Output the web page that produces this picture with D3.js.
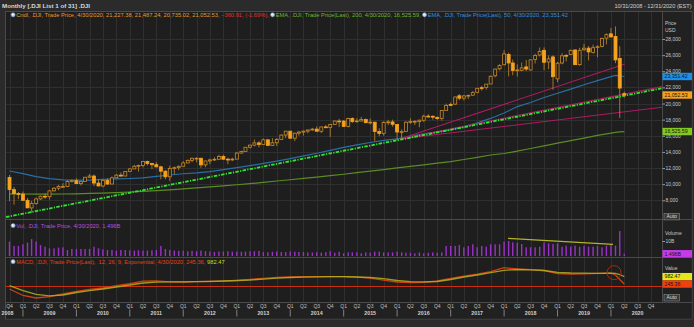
<!DOCTYPE html>
<html>
<head>
<meta charset="utf-8">
<script src="https://cdn.jsdelivr.net/npm/d3@7"></script>
<style>
  html, body { margin: 0; padding: 0; background: #2b2b2b; }
  svg { display: block; font-family: "Liberation Sans", Arial, sans-serif; }
  text { white-space: pre; }
</style>
</head>
<body>
<svg id="chart" width="694" height="327"></svg>
<script>
// ---- Monthly .DJI candles, Oct 2008 .. Apr 2020 ----
const firstMonth = [2008, 9]; // October 2008 (UTC year, month index)

const opens = [
  10831, 9326, 8829,
  8772, 7999, 7057, 7609, 8168, 8501, 8447, 9172, 9497, 9712, 9713, 10345,
  10430, 10068, 10326, 10857, 11009, 10136, 9774, 10468, 10016, 10789, 11120, 11007,
  11577, 11892, 12226, 12321, 12810, 12570, 12415, 12144, 11613, 10913, 11955, 12046,
  12221, 12632, 12952, 13213, 13214, 12391, 12880, 13009, 13092, 13438, 13099, 13027,
  13104, 13860, 14054, 14580, 14840, 15116, 14911, 15500, 14810, 15132, 15545, 16087,
  16572, 15698, 16321, 16458, 16580, 16716, 16828, 16561, 17099, 17041, 17391, 17828,
  17823, 17169, 18134, 17778, 17840, 18012, 17638, 17690, 16528, 16285, 17664, 17719,
  17405, 16453, 16546, 17661, 17783, 17754, 17925, 18434, 18419, 18282, 18162, 19149,
  19872, 19923, 20957, 20665, 20962, 21030, 21392, 21964, 21982, 22423, 23442, 24305,
  24809, 26083, 25025, 24076, 24117, 24542, 24161, 25461, 26011, 26598, 25151, 25779,
  23058, 25025, 25971, 26076, 26640, 24820, 26670, 26868, 26342, 26962, 27094, 28110,
  28639, 28320, 25591, 21227.38
];
const highs = [
  11143, 9654, 9026,
  9088, 8281, 7925, 8329, 8588, 8878, 9294, 9630, 9917, 10119, 10496, 10580,
  10730, 10405, 10905, 11258, 11206, 10595, 10583, 10719, 10948, 11247, 11452, 11625,
  11980, 12391, 12419, 12876, 12929, 12570, 12754, 12285, 11717, 12284, 12188, 12330,
  12842, 13056, 13289, 13338, 13280, 12901, 13159, 13331, 13653, 13661, 13290, 13285,
  13969, 14149, 14585, 14888, 15542, 15340, 15658, 15542, 15709, 15721, 16174, 16588,
  16588, 16398, 16589, 16632, 16736, 16979, 17152, 17131, 17350, 17395, 17895, 18103,
  17951, 18244, 18289, 18176, 18351, 18138, 18137, 17716, 16933, 17799, 17977, 17996,
  17405, 16795, 17790, 18168, 17934, 18017, 18622, 18668, 18534, 18399, 19152, 19988,
  20125, 20851, 21169, 21071, 21112, 21535, 21929, 22179, 22420, 23485, 24327, 24876,
  26617, 26307, 25450, 24858, 25087, 25402, 25461, 26168, 26952, 26952, 25980, 25980,
  25150, 26242, 26110, 26696, 26683, 26907, 27399, 27141, 27306, 27212, 28175, 28701,
  29374, 29568, 27102, 21487.24
];
const lows = [
  7882, 7449, 8149,
  7909, 7114, 6470, 7453, 8034, 8177, 8087, 9089, 9253, 9653, 9679, 10216,
  10043, 9836, 10265, 10778, 9775, 9758, 9614, 9936, 10016, 10711, 10929, 11007,
  11578, 11892, 11555, 12094, 12307, 11862, 12143, 10604, 10597, 10404, 11231, 11736,
  12218, 12632, 12711, 12710, 12035, 12102, 12492, 12878, 13035, 13020, 12471, 12883,
  13104, 13784, 14054, 14434, 14687, 14551, 14910, 14760, 14777, 14719, 15545, 15703,
  15698, 15340, 16016, 16015, 16312, 16656, 16557, 16334, 16944, 15855, 17365, 17068,
  17136, 17038, 17585, 17634, 17762, 17575, 17399, 15370, 15942, 16014, 17320, 17128,
  15451, 15503, 16545, 17484, 17331, 17063, 17713, 18247, 17992, 17959, 17884, 19149,
  19678, 19831, 20412, 20379, 20553, 20996, 21279, 21600, 21710, 22417, 23242, 24118,
  24742, 23360, 23509, 23344, 23997, 24005, 24077, 24965, 25830, 24123, 24268, 21713,
  22639, 24861, 25209, 26022, 24787, 24680, 26511, 25339, 26203, 25744, 26960, 27325,
  28170, 25000, 18214, 20735.02
];
const closes = [
  9325, 8829, 8776,
  8001, 7063, 7609, 8168, 8500, 8447, 9172, 9496, 9712, 9713, 10344, 10428,
  10067, 10325, 10857, 11009, 10137, 9774, 10466, 10015, 10788, 11118, 11006, 11578,
  11892, 12226, 12320, 12811, 12570, 12414, 12143, 11614, 10913, 11955, 12046, 12218,
  12633, 12952, 13212, 13214, 12393, 12880, 13009, 13091, 13437, 13096, 13026, 13104,
  13861, 14054, 14579, 14840, 15116, 14910, 15500, 14810, 15130, 15546, 16086, 16577,
  15699, 16322, 16458, 16581, 16717, 16827, 16563, 17098, 17043, 17391, 17828, 17823,
  17165, 18133, 17776, 17841, 18011, 17620, 17690, 16528, 16285, 17664, 17720, 17425,
  16466, 16517, 17685, 17774, 17787, 17930, 18432, 18401, 18308, 18142, 19124, 19763,
  19864, 20812, 20663, 20941, 21009, 21350, 21891, 21948, 22405, 23377, 24272, 24719,
  26149, 25029, 24103, 24163, 24416, 24271, 25415, 25965, 26458, 25116, 25538, 23327,
  24999, 25916, 25929, 26593, 24815, 26600, 26864, 26403, 26917, 27046, 28051, 28538,
  28256, 25409, 21917, 21052.53
];
// monthly volume, billions
const volumes = [
  9.6, 6.7, 6.7,
  7.8, 8.9, 11.3, 9.6, 7.3, 6.2, 5.1, 5.1, 5.6, 5.8, 4.0, 4.7,
  4.7, 4.7, 4.7, 4.7, 6.2, 5.1, 4.4, 4.0, 4.0, 3.6, 4.0, 4.0,
  3.8, 3.6, 3.8, 3.6, 3.6, 3.8, 4.0, 6.7, 4.7, 4.0, 3.6, 3.4,
  3.6, 3.2, 3.4, 3.2, 3.6, 3.2, 3.0, 2.7, 3.0, 3.0, 3.2, 2.9,
  3.0, 2.8, 3.0, 3.1, 3.2, 3.4, 2.6, 2.5, 2.8, 3.0, 2.6, 2.6,
  3.0, 2.8, 2.7, 2.7, 2.3, 2.3, 2.5, 2.2, 2.6, 3.2, 2.2, 2.8,
  1.8, 2.4, 2.4, 2.4, 1.8, 2.4, 2.2, 2.9, 2.9, 2.4, 2.4, 2.4,
  2.9, 2.4, 2.2, 2.2, 1.8, 2.4, 1.8, 2.2, 2.4, 2.2, 2.4, 6.7,
  6.7, 6.7, 7.3, 5.8, 6.7, 7.8, 5.8, 6.7, 6.2, 7.8, 7.8, 7.8,
  9.6, 10.0, 9.1, 8.9, 8.0, 5.8, 5.8, 5.8, 6.2, 9.1, 8.4, 8.0,
  8.4, 6.2, 6.9, 6.2, 6.9, 6.2, 6.7, 6.2, 6.2, 6.7, 5.8, 6.9,
  7.8, 6.9, 16.7, 1.4958
];
const lastChange = -360.91;
const lastChangePct = -1.69;

// ---- indicator samples (quarterly, then the last three months) ----
const indicatorMonths = [
  "2008-10",
  "2009-01", "2009-04", "2009-07", "2009-10", "2010-01", "2010-04", "2010-07", "2010-10",
  "2011-01", "2011-04", "2011-07", "2011-10", "2012-01", "2012-04", "2012-07", "2012-10",
  "2013-01", "2013-04", "2013-07", "2013-10", "2014-01", "2014-04", "2014-07", "2014-10",
  "2015-01", "2015-04", "2015-07", "2015-10", "2016-01", "2016-04", "2016-07", "2016-10",
  "2017-01", "2017-04", "2017-07", "2017-10", "2018-01", "2018-04", "2018-07", "2018-10",
  "2019-01", "2019-04", "2019-07", "2019-10", "2020-01", "2020-02", "2020-03", "2020-04"
];
const ema50 = [
  11630,
  11300, 10930, 10680, 10540, 10490, 10500, 10590, 10650,
  10700, 10780, 10960, 11140, 11290, 11390, 11560, 11810,
  12050, 12290, 12570, 12860, 13170, 13500, 13830, 14190,
  14560, 14880, 15170, 15420, 15620, 15930, 16240, 16480,
  16730, 17110, 17600, 18150, 18820, 19620, 20130, 20740,
  21280, 21780, 22330, 22830, 23330, 23480, 23440, 23351.42
];
const ema200 = [
  8790,
  8780, 8770, 8760, 8780, 8800, 8850, 8900, 8960,
  9030, 9110, 9200, 9300, 9410, 9530, 9660, 9790,
  9930, 10060, 10220, 10390, 10550, 10710, 10870, 11050,
  11230, 11420, 11620, 11810, 12010, 12200, 12400, 12600,
  12800, 13060, 13330, 13620, 13800, 14100, 14420, 14750,
  15080, 15400, 15720, 16060, 16330, 16420, 16475, 16525.59
];
const macdLine = [
  -250,
  -900, -1150, -1020, -750, -500, -300, -150, 80,
  280, 530, 570, 470, 450, 480, 500, 530,
  580, 720, 820, 900, 950, 980, 990, 980,
  980, 930, 840, 640, 450, 390, 420, 550,
  800, 1030, 1230, 1480, 1880, 1750, 1680, 1600,
  1300, 1230, 1260, 1320, 1330, 1150, 700, 245.36
];
const macdSignal = [
  80,
  -420, -780, -930, -850, -600, -420, -250, -50,
  150, 350, 440, 460, 470, 480, 510, 550,
  600, 650, 740, 830, 900, 940, 970, 980,
  980, 950, 900, 780, 600, 480, 470, 500,
  700, 950, 1150, 1380, 1620, 1700, 1660, 1600,
  1420, 1350, 1330, 1320, 1330, 1320, 1200, 982.47
];

// ---- drawn trendlines: [date, value] end points ----
const supportLine = [["2008-09-08", 5930], ["2020-12-15", 21890]];
const fanLines = [
  [["2016-01-20", 15600], ["2020-04-05", 24900]],
  [["2016-01-20", 15600], ["2020-12-15", 22090]],
  [["2016-01-20", 15600], ["2020-12-15", 19530]]
];
const volumeLine = [["2018-01-28", 11.8], ["2020-01-15", 7.8]];
const macdMarker = { date: "2020-01-22", value: 1380 };

const priceTicks = [8000, 10000, 12000, 14000, 16000, 18000, 20000, 22000, 24000, 26000, 28000];
const volumeTicks = [10];
const quarterNames = ["Q1", "Q2", "Q3", "Q4"];

// ---------------------------------------------------------------
const svg = d3.select("#chart");
const plotL = 6, plotR = 662, axisR = 692;
const mainTop = 11, mainBot = 219.5, volBot = 257.5, macdBot = 302, axisBot = 318.5;

const utc = (y, m, d = 1) => new Date(Date.UTC(y, m, d));
const parseDay = d3.utcParse("%Y-%m-%d");
const parseMonth = d3.utcParse("%Y-%m");

const months = d3.range(closes.length).map(i => utc(firstMonth[0], firstMonth[1] + i));
const candles = months.map((d, i) => ({ date: d, o: opens[i], h: highs[i], l: lows[i], c: closes[i], v: volumes[i] }));
const ind = indicatorMonths.map((m, i) => ({
  date: parseMonth(m), e50: ema50[i], e200: ema200[i], macd: macdLine[i], sig: macdSignal[i]
}));

const x = d3.scaleUtc().domain([utc(2008, 9), utc(2020, 11)]).range([9.5, 660]);
const yPrice = d3.scaleLinear().domain([8000, 28000]).range([200.3, 39]);
const yVol = d3.scaleLinear().domain([0, 10]).range([256, 241]);
const yMacd = d3.scaleLinear().domain([-1550, 2850]).range([302, 258]);

// backgrounds
svg.append("rect").attr("width", 694).attr("height", 327).attr("fill", "#2b2b2b");
svg.append("rect").attr("x", plotL - 0.5).attr("y", mainTop + 0.5)
  .attr("width", axisR - plotL + 0.5).attr("height", axisBot - mainTop)
  .attr("fill", "#1e1e1e").attr("stroke", "#4a4a4a").attr("stroke-width", 1);
svg.append("rect").attr("x", plotR).attr("y", mainTop + 1).attr("width", axisR - plotR - 0.5)
  .attr("height", macdBot - mainTop - 1).attr("fill", "#212121");
svg.append("rect").attr("x", plotL).attr("y", macdBot).attr("width", axisR - plotL - 0.5)
  .attr("height", axisBot - macdBot).attr("fill", "#212121");

const defs = svg.append("defs");
function clip(id, y0, y1) {
  defs.append("clipPath").attr("id", id).append("rect")
    .attr("x", plotL).attr("y", y0).attr("width", plotR - plotL).attr("height", y1 - y0);
}
clip("clipMain", mainTop, mainBot);
clip("clipVol", mainBot, volBot);
clip("clipMacd", volBot, macdBot);

// grid
const quarters = d3.utcMonth.every(3).range(utc(2008, 9), utc(2021, 0));
const grid = svg.append("g").attr("stroke", "#2f2f2f").attr("stroke-width", 1).attr("shape-rendering", "crispEdges");
grid.selectAll("line.v").data(quarters).join("line")
  .attr("x1", d => Math.round(x(d)) + 0.5).attr("x2", d => Math.round(x(d)) + 0.5)
  .attr("y1", mainTop + 1).attr("y2", macdBot);
grid.selectAll("line.h").data(priceTicks).join("line")
  .attr("x1", plotL).attr("x2", plotR)
  .attr("y1", d => Math.round(yPrice(d)) + 0.5).attr("y2", d => Math.round(yPrice(d)) + 0.5);

// panel separators
const sep = svg.append("g").attr("stroke", "#4a4a4a").attr("shape-rendering", "crispEdges");
[mainBot, volBot, macdBot].forEach(yy => sep.append("line").attr("x1", plotL).attr("x2", axisR).attr("y1", yy).attr("y2", yy));
sep.append("line").attr("x1", plotR + 0.5).attr("x2", plotR + 0.5).attr("y1", mainTop).attr("y2", macdBot);

// ---- main panel ----
const main = svg.append("g").attr("clip-path", "url(#clipMain)");
const line = (yf, key) => d3.line().x(d => x(d.date)).y(d => yf(d[key]));

main.append("path").datum(ind).attr("d", line(yPrice, "e200"))
  .attr("fill", "none").attr("stroke", "#5a8c22").attr("stroke-width", 1.2);
main.append("path").datum(ind).attr("d", line(yPrice, "e50"))
  .attr("fill", "none").attr("stroke", "#2a6ea6").attr("stroke-width", 1.2);

// fan of trendlines from the 2016 low
fanLines.forEach(seg => {
  main.append("line")
    .attr("x1", x(parseDay(seg[0][0]))).attr("y1", yPrice(seg[0][1]))
    .attr("x2", x(parseDay(seg[1][0]))).attr("y2", yPrice(seg[1][1]))
    .attr("stroke", "#b01a62").attr("stroke-width", 1.1);
});

// long-term support line
main.append("line")
  .attr("x1", x(parseDay(supportLine[0][0]))).attr("y1", yPrice(supportLine[0][1]))
  .attr("x2", x(parseDay(supportLine[1][0]))).attr("y2", yPrice(supportLine[1][1]))
  .attr("stroke", "#2ee62e").attr("stroke-width", 1.8).attr("stroke-dasharray", "3.5,1.3,1.2,1.3");

// candles
const bodyW = 3;
const cg = main.append("g");
cg.selectAll("line.wick").data(candles).join("line")
  .attr("x1", d => x(d.date)).attr("x2", d => x(d.date))
  .attr("y1", d => yPrice(d.h)).attr("y2", d => yPrice(d.l))
  .attr("stroke", "#c58a2a").attr("stroke-width", 0.8);
cg.selectAll("rect.body").data(candles).join("rect")
  .attr("x", d => x(d.date) - bodyW / 2)
  .attr("y", d => yPrice(Math.max(d.o, d.c)))
  .attr("width", bodyW)
  .attr("height", d => Math.max(0.8, Math.abs(yPrice(d.o) - yPrice(d.c))))
  .attr("fill", d => d.c < d.o ? "#f5a21f" : "#1e1e1e")
  .attr("stroke", d => d.c < d.o ? "#f5a21f" : "#c98a26")
  .attr("stroke-width", 0.8);

// ---- volume panel ----
const vg = svg.append("g").attr("clip-path", "url(#clipVol)");
vg.selectAll("rect").data(candles).join("rect")
  .attr("x", d => x(d.date) - 0.7).attr("width", 1.4)
  .attr("y", d => yVol(d.v)).attr("height", d => yVol(0) - yVol(d.v))
  .attr("fill", "#9a32c8");
vg.append("line")
  .attr("x1", x(parseDay(volumeLine[0][0]))).attr("y1", yVol(volumeLine[0][1]))
  .attr("x2", x(parseDay(volumeLine[1][0]))).attr("y2", yVol(volumeLine[1][1]))
  .attr("stroke", "#b4b42a").attr("stroke-width", 1.2);

// ---- MACD panel ----
const mg = svg.append("g").attr("clip-path", "url(#clipMacd)");
mg.append("line").attr("x1", plotL).attr("x2", plotR)
  .attr("y1", yMacd(0)).attr("y2", yMacd(0)).attr("stroke", "#c8300e").attr("stroke-width", 1);
mg.append("path").datum(ind).attr("d", line(yMacd, "macd"))
  .attr("fill", "none").attr("stroke", "#d0400f").attr("stroke-width", 1.3);
mg.append("path").datum(ind).attr("d", line(yMacd, "sig"))
  .attr("fill", "none").attr("stroke", "#b5b021").attr("stroke-width", 1.3).attr("stroke-opacity", 0.85);
mg.append("circle")
  .attr("cx", x(parseDay(macdMarker.date))).attr("cy", yMacd(macdMarker.value)).attr("r", 7)
  .attr("fill", "none").attr("stroke", "#a82810").attr("stroke-width", 1);

// ---- right axes ----
const axisColor = "#c8c8c8";
const ax = svg.append("g").attr("font-size", 5).attr("fill", axisColor);
const priceAxis = d3.axisRight(yPrice).tickValues(priceTicks).tickSize(2.5).tickFormat(d3.format(",.0f"));
svg.append("g").attr("transform", `translate(${plotR + 0.5},0)`).call(priceAxis)
  .call(g => g.select(".domain").remove())
  .call(g => g.selectAll("line").attr("stroke", "#9a9a9a"))
  .call(g => g.selectAll("text").attr("fill", axisColor).attr("font-size", 5)
    .attr("font-family", "Liberation Sans, Arial, sans-serif").attr("x", 3));
const volAxis = d3.axisRight(yVol).tickValues(volumeTicks).tickSize(2.5).tickFormat(d => d + "B");
svg.append("g").attr("transform", `translate(${plotR + 0.5},0)`).call(volAxis)
  .call(g => g.select(".domain").remove())
  .call(g => g.selectAll("line").attr("stroke", "#9a9a9a"))
  .call(g => g.selectAll("text").attr("fill", axisColor).attr("font-size", 5)
    .attr("font-family", "Liberation Sans, Arial, sans-serif").attr("x", 3));

ax.append("text").attr("x", 665).attr("y", 23).attr("dy", "0.35em").text("Price");
ax.append("text").attr("x", 665).attr("y", 30.5).attr("dy", "0.35em").text("USD");
ax.append("text").attr("x", 665).attr("y", 233).attr("dy", "0.35em").text("Volume");
ax.append("text").attr("x", 665).attr("y", 268).attr("dy", "0.35em").text("Value");

function autoButton(yc) {
  const g = svg.append("g");
  g.append("rect").attr("x", 664).attr("y", yc - 3.3).attr("width", 15.5).attr("height", 6.6)
    .attr("fill", "#383838").attr("stroke", "#8a8a8a").attr("stroke-width", 0.6);
  g.append("text").attr("x", 671.75).attr("y", yc).attr("dy", "0.35em").attr("text-anchor", "middle")
    .attr("font-size", 5).attr("fill", "#dddddd").text("Auto");
}
autoButton(216.6);
autoButton(297.7);

// value badges
const fmt2 = d3.format(",.2f");
function badge(yc, label, bg, fg = "#141414") {
  const g = svg.append("g");
  g.append("rect").attr("x", plotR + 0.5).attr("y", yc - 3.7).attr("width", 29.5).attr("height", 7.4).attr("fill", bg);
  g.append("text").attr("x", plotR + 2.5).attr("y", yc).attr("dy", "0.35em")
    .attr("font-size", 5.2).attr("fill", fg).text(label);
}
const last = candles[candles.length - 1];
const lastInd = ind[ind.length - 1];
badge(yPrice(lastInd.e50), fmt2(lastInd.e50), "#1e8fe8");
badge(yPrice(last.c), fmt2(last.c), "#f5a21f");
badge(yPrice(lastInd.e200), fmt2(lastInd.e200), "#84c81e");
badge(yVol(last.v), d3.format(".4")(last.v) + "B", "#c63ae8");
badge(yMacd(lastInd.sig), fmt2(lastInd.sig), "#e6e61a");
badge(yMacd(lastInd.macd), fmt2(lastInd.macd), "#f0400f");

// ---- time axis ----
const tg = svg.append("g").attr("font-size", 5).attr("fill", "#c0c0c0").attr("text-anchor", "middle");
tg.selectAll("text.q").data(quarters.filter(d => d <= utc(2020, 9))).join("text")
  .attr("x", d => x(d)).attr("y", 306).attr("dy", "0.35em")
  .text(d => quarterNames[d.getUTCMonth() / 3]);
const years = d3.range(2008, 2021);
tg.selectAll("text.y").data(years).join("text")
  .attr("x", yr => Math.max(7.5, x(utc(yr, 6))))
  .attr("y", 313.3).attr("dy", "0.35em").attr("font-weight", "bold").attr("font-size", 5.3)
  .attr("fill", "#d0d0d0").text(yr => yr);
svg.append("g").attr("stroke", "#9a9a9a").attr("stroke-width", 0.8)
  .selectAll("line").data(years.slice(1)).join("line")
  .attr("x1", yr => x(utc(yr, 0))).attr("x2", yr => x(utc(yr, 0)))
  .attr("y1", 309.5).attr("y2", 316.5);

// ---- header ----
svg.append("text").attr("x", 2).attr("y", 5.8).attr("dy", "0.35em")
  .attr("font-size", 6.2).attr("font-weight", "bold").attr("fill", "#d8d8d8")
  .text("Monthly [.DJI List 1 of 31] .DJI");
svg.append("text").attr("x", 691.5).attr("y", 5.8).attr("dy", "0.35em").attr("text-anchor", "end")
  .attr("font-size", 5.6).attr("fill", "#d0d0d0").text("10/31/2008 - 12/31/2020 (EST)");

// ---- legends ----
function icon(g, cx, cy) {
  g.append("circle").attr("cx", cx).attr("cy", cy).attr("r", 2.1)
    .attr("fill", "#cfd8e6").attr("stroke", "#6d8cbc").attr("stroke-width", 0.6);
  g.append("circle").attr("cx", cx - 0.5).attr("cy", cy - 0.5).attr("r", 0.8).attr("fill", "#ffffff");
}
function legend(x0, y, parts) {
  const g = svg.append("g");
  let cx = x0;
  parts.forEach(p => {
    if (p.icon) { icon(g, cx + 2.1, y); cx += 5.2; return; }
    const t = g.append("text").attr("x", cx).attr("y", y).attr("dy", "0.35em")
      .attr("font-size", 5.75).attr("fill", p.color).text(p.text);
    cx += t.node().getComputedTextLength();
  });
}
const dateTxt = "4/30/2020";
legend(11, 14.8, [
  { icon: true },
  { text: `Cndl, .DJI, Trade Price, ${dateTxt}, ${fmt2(last.o)}, ${fmt2(last.h)}, ${fmt2(last.l)}, ${fmt2(last.c)}, `, color: "#e89a2a" },
  { text: `${fmt2(lastChange)}, (${lastChangePct.toFixed(2)}%), `, color: "#e43030" },
  { icon: true },
  { text: `EMA, .DJI, Trade Price(Last), 200, ${dateTxt}, ${fmt2(lastInd.e200)}, `, color: "#6cb828" },
  { icon: true },
  { text: `EMA, .DJI, Trade Price(Last), 50, ${dateTxt}, ${fmt2(lastInd.e50)}`, color: "#2e8fe0" }
]);
legend(11, 225.6, [
  { icon: true },
  { text: `Vol, .DJI, Trade Price, ${dateTxt}, ${d3.format(".4")(last.v)}B`, color: "#b44ee0" }
]);
legend(11, 261.7, [
  { icon: true },
  { text: `MACD, .DJI, Trade Price(Last),  12, 26, 9, Exponential, ${dateTxt}, ${fmt2(lastInd.macd)}, `, color: "#e04418" },
  { text: `${fmt2(lastInd.sig)}`, color: "#d4d41c" }
]);
</script>
</body>
</html>
